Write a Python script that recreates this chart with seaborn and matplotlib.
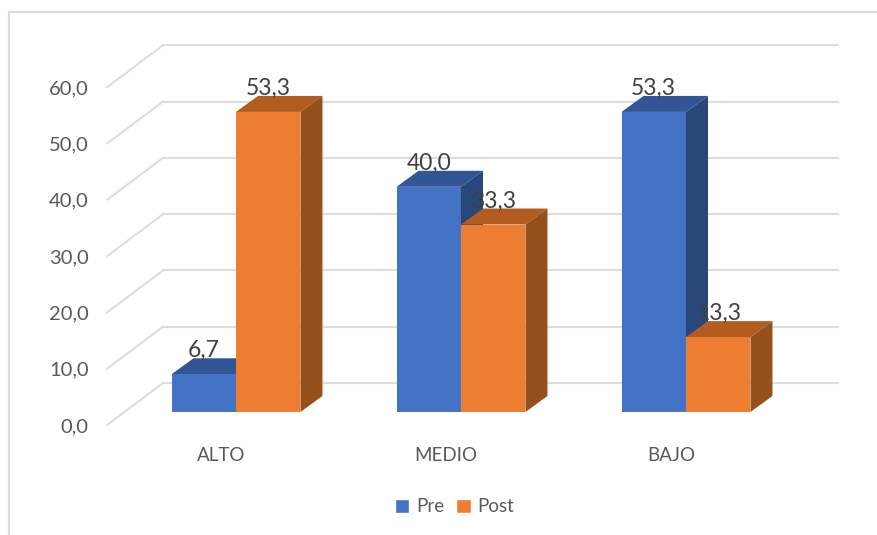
import pandas as pd
import seaborn as sns
import matplotlib.pyplot as plt
from matplotlib.lines import Line2D
from matplotlib.patches import Polygon
from matplotlib.transforms import ScaledTranslation

niveles = ['ALTO', 'MEDIO', 'BAJO']
pre = [6.7, 40.0, 53.3]
post = [53.3, 33.3, 13.3]
y_ticks = [0, 10, 20, 30, 40, 50, 60]

sns.set_style('white')
plt.rcParams['font.family'] = ['Lato', 'DejaVu Sans']

df = pd.DataFrame({
    'nivel': niveles * 2,
    'valor': pre + post,
    'grupo': ['Pre'] * 3 + ['Post'] * 3,
})

W, H = 877, 535
fig = plt.figure(figsize=(W / 100, H / 100), dpi=100)
ax = fig.add_axes([123.5 / W, (H - 412) / H, 675 / W, 337.8 / H])

sns.barplot(data=df, x='nivel', y='valor', hue='grupo', palette=['#4472C4', '#ED7D31'],
            width=0.573, gap=0, saturation=1, ax=ax)
ax.set_xlim(-0.5, 2.5)
ax.set_ylim(0, 60)
ax.set_xlabel('')
ax.set_ylabel('')
sns.despine(ax=ax, left=True, bottom=True)

# pixel sizes of one category and of one value unit, used for the fake 3D depth
px_x = 225
px_y = 5.63
depth_x = 22 / px_x
depth_y = 16 / px_y

# back wall gridlines and the slanted lines on the left wall
wall_y = 29 / px_y
front_y = -13 / px_y
for v in y_ticks:
    ax.plot([-0.324, 2.676], [v + wall_y, v + wall_y], color='#DDDDDD', lw=1.5, zorder=1, clip_on=False)
    ax.plot([-0.573, -0.324], [v + front_y, v + wall_y], color='#DDDDDD', lw=1.5, zorder=1, clip_on=False)

# top and side faces of each bar
shades = [('#325595', '#2A4779'), ('#B35C1F', '#95501C')]
for i, cont in enumerate(ax.containers):
    top_col, side_col = shades[i]
    z = 2 + i
    for p in cont:
        x0 = p.get_x()
        x1 = x0 + p.get_width()
        h = p.get_height()
        p.set_zorder(z + 0.2)
        p.set_edgecolor('none')
        ax.add_patch(Polygon([(x0, h), (x1, h), (x1 + depth_x, h + depth_y), (x0 + depth_x, h + depth_y)],
                             facecolor=top_col, edgecolor='none', zorder=z, clip_on=False))
        ax.add_patch(Polygon([(x1, 0), (x1 + depth_x, depth_y), (x1 + depth_x, h + depth_y), (x1, h)],
                             facecolor=side_col, edgecolor='none', zorder=z + 0.1, clip_on=False))

# data labels sit on the back edge of the top face
for cont in ax.containers:
    for p in cont:
        h = p.get_height()
        ax.text(p.get_x() + p.get_width() / 2, h + depth_y + 1 / px_y, f'{h:.1f}'.replace('.', ','),
                ha='center', va='baseline', fontsize=16.5, color='#404040', zorder=6, clip_on=False)

ax.set_yticks(y_ticks)
ax.set_yticklabels([f'{v:.1f}'.replace('.', ',') for v in y_ticks], fontsize=14.5, color='#595959')
ax.tick_params(axis='y', length=0, pad=25)
ax.tick_params(axis='x', length=0, pad=25, labelsize=13.5, labelcolor='#595959')

shift_y = ScaledTranslation(0, -13 / 100, fig.dpi_scale_trans)
for lab in ax.get_yticklabels():
    lab.set_transform(lab.get_transform() + shift_y)
shift_x = ScaledTranslation(-15 / 100, 0, fig.dpi_scale_trans)
for lab in ax.get_xticklabels():
    lab.set_transform(lab.get_transform() + shift_x)

ax.legend(frameon=False, ncol=2, loc='center', bbox_to_anchor=(454.5 / W, 1 - 507 / H),
          bbox_transform=fig.transFigure, fontsize=13.5, labelcolor='#595959',
          handlelength=0.78, handleheight=0.78, handletextpad=0.35, columnspacing=0.65)

# chart frame, only left and top are visible in the crop
fig.add_artist(Line2D([9 / W, 9 / W, 1], [0, 1 - 12 / H, 1 - 12 / H], color='#DCDCDC', lw=1.6))

fig.savefig('out.png', dpi=100)
